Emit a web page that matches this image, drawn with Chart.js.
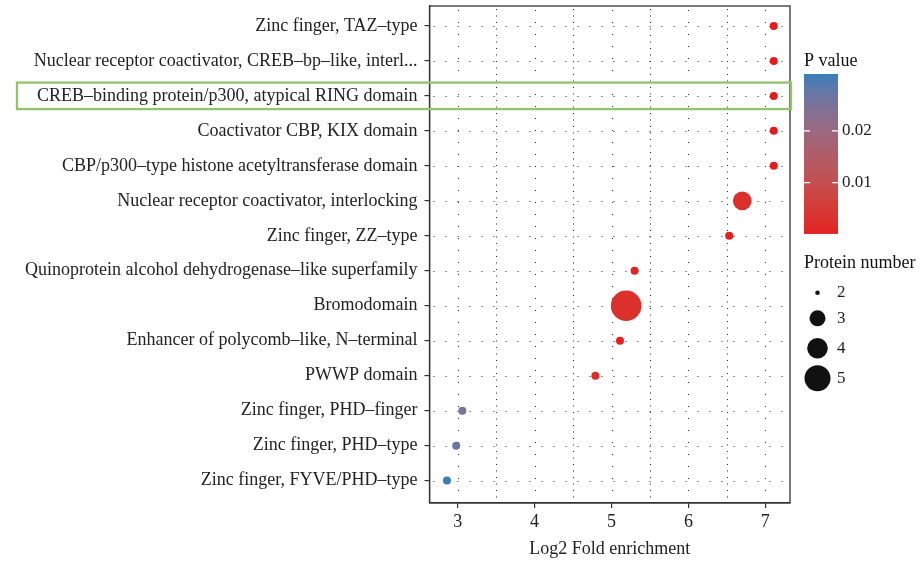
<!DOCTYPE html>
<html lang="en">
<head>
  <meta charset="UTF-8">
  <title>Domain enrichment</title>
  <style>
    html, body { margin: 0; padding: 0; background: #fff; }
    #wrap { width: 924px; height: 565px; }
  </style>
</head>
<body>
  <div id="wrap"><canvas id="chart"></canvas></div>

  <script src="https://cdn.jsdelivr.net/npm/chart.js"></script>
  <script>
    // data, top row first
    const domains = [
      'Zinc finger, TAZ–type',
      'Nuclear receptor coactivator, CREB–bp–like, interl...',
      'CREB–binding protein/p300, atypical RING domain',
      'Coactivator CBP, KIX domain',
      'CBP/p300–type histone acetyltransferase domain',
      'Nuclear receptor coactivator, interlocking',
      'Zinc finger, ZZ–type',
      'Quinoprotein alcohol dehydrogenase–like superfamily',
      'Bromodomain',
      'Enhancer of polycomb–like, N–terminal',
      'PWWP domain',
      'Zinc finger, PHD–finger',
      'Zinc finger, PHD–type',
      'Zinc finger, FYVE/PHD–type'
    ];
    const foldEnrichment = [7.11, 7.11, 7.11, 7.11, 7.11, 6.70, 6.53, 5.30, 5.19, 5.11, 4.79, 3.06, 2.98, 2.86];
    const pValues = [0.0002, 0.0002, 0.0002, 0.0002, 0.0002, 0.003, 0.0008, 0.0012, 0.003, 0.0012, 0.0025, 0.025, 0.027, 0.031];
    const proteinNumbers = [2, 2, 2, 2, 2, 3, 2, 2, 5, 2, 2, 2, 2, 2];

    const xTickLabels = [3, 4, 5, 6, 7];
    const xMinorBreaks = [3.5, 4.5, 5.5, 6.5];
    const pTickLabels = [0.01, 0.02];
    const sizeKeys = [2, 3, 4, 5];
    const highlighted = 'CREB–binding protein/p300, atypical RING domain';

    const FONT = "'Liberation Serif', 'DejaVu Serif', serif";
    const LOW = '#E41A1C', HIGH = '#377EB8';

    // --- colour ramp in Lab space (like ggplot's gradient) ---
    function hexRgb(h) {
      return [1, 3, 5].map(i => parseInt(h.substr(i, 2), 16));
    }
    function toLab(rgb) {
      const lin = rgb.map(c => { c /= 255; return c <= 0.04045 ? c / 12.92 : Math.pow((c + 0.055) / 1.055, 2.4); });
      const X = (0.4124 * lin[0] + 0.3576 * lin[1] + 0.1805 * lin[2]) / 0.95047;
      const Y = 0.2126 * lin[0] + 0.7152 * lin[1] + 0.0722 * lin[2];
      const Z = (0.0193 * lin[0] + 0.1192 * lin[1] + 0.9505 * lin[2]) / 1.08883;
      const f = t => t > 0.008856 ? Math.cbrt(t) : 7.787 * t + 16 / 116;
      return [116 * f(Y) - 16, 500 * (f(X) - f(Y)), 200 * (f(Y) - f(Z))];
    }
    function fromLab(lab) {
      const fy = (lab[0] + 16) / 116, fx = fy + lab[1] / 500, fz = fy - lab[2] / 200;
      const inv = t => t * t * t > 0.008856 ? t * t * t : (t - 16 / 116) / 7.787;
      const X = inv(fx) * 0.95047, Y = inv(fy), Z = inv(fz) * 1.08883;
      const lin = [
        3.2406 * X - 1.5372 * Y - 0.4986 * Z,
        -0.9689 * X + 1.8758 * Y + 0.0415 * Z,
        0.0557 * X - 0.2040 * Y + 1.0570 * Z
      ];
      return lin.map(c => {
        c = c <= 0.0031308 ? 12.92 * c : 1.055 * Math.pow(c, 1 / 2.4) - 0.055;
        return Math.round(Math.min(1, Math.max(0, c)) * 255);
      });
    }
    const labLow = toLab(hexRgb(LOW)), labHigh = toLab(hexRgb(HIGH));
    const pMin = Math.min(...pValues), pMax = Math.max(...pValues);
    function pColor(p) {
      const t = (p - pMin) / (pMax - pMin);
      const c = fromLab(labLow.map((v, i) => v + (labHigh[i] - v) * t));
      return `rgb(${c[0]},${c[1]},${c[2]})`;
    }
    // point radius from protein number (area scale)
    function sizeOf(n) {
      return Math.sqrt(16 + (n - 2) * 72.7);
    }

    const n = domains.length;
    const points = domains.map((d, i) => ({ x: foldEnrichment[i], y: n - i, r: sizeOf(proteinNumbers[i]) }));

    // dotted grid, frame, highlight box and legends
    const decorations = {
      id: 'decorations',
      beforeDatasetsDraw(chart) {
        const { ctx, chartArea: a, scales: { x, y } } = chart;
        ctx.save();
        ctx.strokeStyle = '#222';
        ctx.lineWidth = 1;
        ctx.setLineDash([1, 11]);
        domains.forEach((d, i) => {
          const py = Math.round(y.getPixelForValue(n - i)) + 0.5;
          ctx.beginPath(); ctx.moveTo(a.left + 4, py); ctx.lineTo(a.right, py); ctx.stroke();
        });
        xTickLabels.forEach(v => {
          const px = Math.round(x.getPixelForValue(v)) + 0.5;
          ctx.beginPath(); ctx.moveTo(px, a.top + 4); ctx.lineTo(px, a.bottom); ctx.stroke();
        });
        ctx.setLineDash([1, 5.5]);
        xMinorBreaks.forEach(v => {
          const px = Math.round(x.getPixelForValue(v)) + 0.5;
          ctx.beginPath(); ctx.moveTo(px, a.top + 3); ctx.lineTo(px, a.bottom); ctx.stroke();
        });
        ctx.restore();
      },
      afterDraw(chart) {
        const { ctx, chartArea: a, scales: { y } } = chart;
        ctx.save();
        // panel frame
        ctx.strokeStyle = '#333';
        ctx.lineWidth = 1.3;
        ctx.strokeRect(a.left, a.top, a.right - a.left, a.bottom - a.top);

        // green highlight box
        const hy = y.getPixelForValue(n - domains.indexOf(highlighted));
        ctx.strokeStyle = '#93c36a';
        ctx.lineWidth = 2.3;
        ctx.strokeRect(17, hy - 13.3, 774, 26.5);

        // colour bar
        ctx.fillStyle = '#111';
        ctx.font = '18px ' + FONT;
        ctx.textBaseline = 'middle';
        ctx.textAlign = 'left';
        ctx.fillText('P value', 804, 61);
        const bx = 804, bw = 34, bTop = 74, bBot = 233.3;
        const bins = 160;
        for (let k = 0; k < bins; k++) {
          const p = pMin + (pMax - pMin) * (k + 0.5) / bins;
          ctx.fillStyle = pColor(p);
          const y0 = bBot - (bBot - bTop) * (k + 1) / bins;
          ctx.fillRect(bx, y0, bw, (bBot - bTop) / bins + 0.6);
        }
        ctx.strokeStyle = '#fff';
        ctx.lineWidth = 1.2;
        ctx.font = '17px ' + FONT;
        pTickLabels.forEach(p => {
          const ty = bBot - (p - pMin) / (pMax - pMin) * (bBot - bTop);
          ctx.beginPath();
          ctx.moveTo(bx, ty); ctx.lineTo(bx + 6, ty);
          ctx.moveTo(bx + bw - 6, ty); ctx.lineTo(bx + bw, ty);
          ctx.stroke();
          ctx.fillStyle = '#222';
          ctx.fillText(String(p), 842, ty);
        });

        // size legend
        ctx.fillStyle = '#111';
        ctx.font = '18px ' + FONT;
        ctx.fillText('Protein number', 804, 263);
        const keyY = [292.7, 318.3, 348.3, 378.3];
        const keyR = [2.3, 8, 10.3, 13];
        ctx.font = '17px ' + FONT;
        sizeKeys.forEach((s, k) => {
          ctx.fillStyle = '#111';
          ctx.beginPath();
          ctx.arc(817.5, keyY[k], keyR[k], 0, Math.PI * 2);
          ctx.fill();
          ctx.fillStyle = '#222';
          ctx.fillText(String(s), 837, keyY[k]);
        });
        ctx.restore();
      }
    };

    new Chart(document.getElementById('chart'), {
      type: 'bubble',
      data: {
        datasets: [{
          data: points,
          backgroundColor: points.map((pt, i) => pColor(pValues[i])),
          borderWidth: 0,
          hoverBorderWidth: 0
        }]
      },
      options: {
        responsive: true,
        maintainAspectRatio: false,
        animation: false,
        devicePixelRatio: 1,
        layout: { autoPadding: false, padding: { top: 6, right: 134, left: 0, bottom: 0 } },
        plugins: { legend: { display: false }, tooltip: { enabled: false } },
        scales: {
          x: {
            type: 'linear',
            min: 2.633,
            max: 7.321,
            afterBuildTicks: axis => { axis.ticks = xTickLabels.map(v => ({ value: v })); },
            afterFit: axis => { axis.height = 62; axis.paddingLeft = 0; axis.paddingRight = 0; },
            ticks: { color: '#222', font: { family: FONT, size: 18 }, padding: 3, maxRotation: 0 },
            grid: { drawOnChartArea: false, drawTicks: true, tickLength: 5, color: '#333', lineWidth: 1.2 },
            border: { display: true, color: '#333', width: 1.3 },
            title: {
              display: true,
              text: 'Log2 Fold enrichment',
              color: '#222',
              font: { family: FONT, size: 18 },
              padding: { top: 0, bottom: 5 }
            }
          },
          y: {
            type: 'linear',
            min: 0.36,
            max: 14.57,
            afterBuildTicks: axis => { axis.ticks = domains.map((d, i) => ({ value: n - i })); },
            afterFit: axis => { axis.width = 429.5; axis.paddingTop = 0; axis.paddingBottom = 0; },
            ticks: {
              color: '#222',
              font: { family: FONT, size: 18 },
              padding: 7,
              callback: v => domains[n - v]
            },
            grid: { drawOnChartArea: false, drawTicks: true, tickLength: 5, color: '#333', lineWidth: 1.2 },
            border: { display: true, color: '#333', width: 1.3 }
          }
        }
      },
      plugins: [decorations]
    });
  </script>
</body>
</html>
